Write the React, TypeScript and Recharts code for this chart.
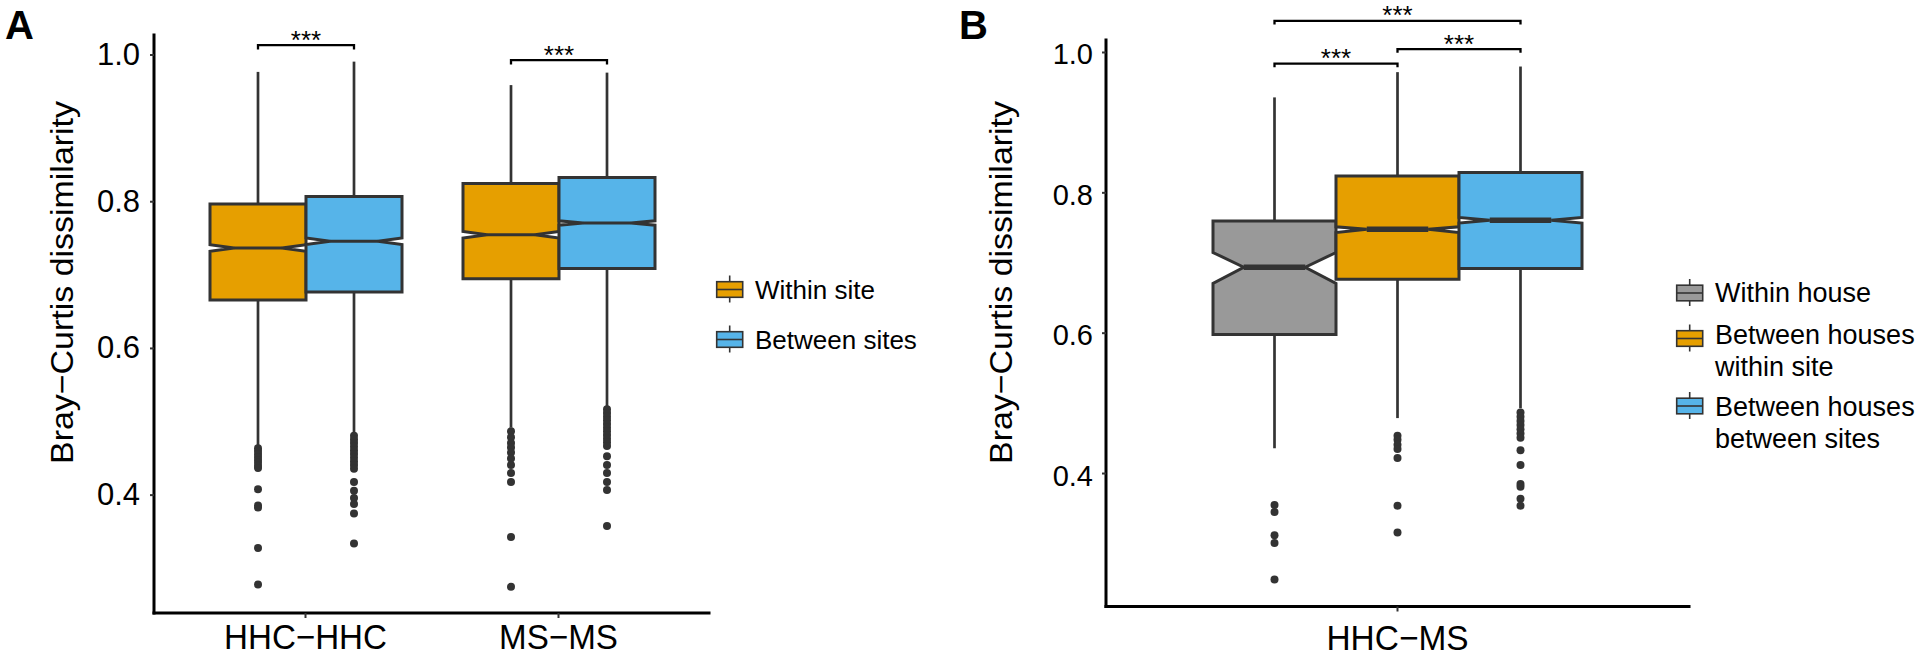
import React from "react";
import { Bar, ComposedChart, Label, Legend, XAxis, YAxis } from "recharts";

const FONT = '"Liberation Sans", Arial, Helvetica, sans-serif';
const INK = "#333333";

// ---- panel A: same-type pairs ----
const pairCategories = ["HHC−HHC", "MS−MS"];
const pairSeries = ["Within site", "Between sites"];
const pairColors = ["#E69F00", "#56B4E9"];
// [lower whisker, Q1, notch low, median, notch high, Q3, upper whisker]
const withinSiteStats = [
  [0.468, 0.666, 0.7325, 0.737, 0.7415, 0.797, 0.977],
  [0.492, 0.695, 0.7505, 0.755, 0.7595, 0.825, 0.959],
];
const betweenSitesStats = [
  [0.484, 0.677, 0.7415, 0.746, 0.7505, 0.807, 0.991],
  [0.521, 0.709, 0.768, 0.771, 0.774, 0.833, 0.976],
];
const withinSiteOutliers = [
  [0.464, 0.46, 0.456, 0.452, 0.448, 0.444, 0.44, 0.437, 0.408, 0.386, 0.383, 0.328, 0.278],
  [0.487, 0.479, 0.471, 0.465, 0.458, 0.45, 0.441, 0.43, 0.418, 0.343, 0.275],
];
const betweenSitesOutliers = [
  [0.481, 0.476, 0.471, 0.466, 0.461, 0.456, 0.451, 0.446, 0.441, 0.436, 0.418, 0.406, 0.396, 0.388, 0.375, 0.334],
  [0.517, 0.512, 0.507, 0.502, 0.497, 0.492, 0.487, 0.482, 0.477, 0.472, 0.467, 0.453, 0.441, 0.43, 0.418, 0.407, 0.358],
];
const pairBracketY = [1.0136, 0.993];

// ---- panel B: HHC vs MS ----
const mixedCategories = ["HHC−MS"];
const mixedSeries = [["Within house"], ["Between houses", "within site"], ["Between houses", "between sites"]];
const mixedColors = ["#999999", "#E69F00", "#56B4E9"];
const withinHouseStats = [[0.436, 0.598, 0.671, 0.694, 0.715, 0.76, 0.936]];
const housesWithinSiteStats = [[0.479, 0.677, 0.7435, 0.748, 0.7515, 0.824, 0.972]];
const housesBetweenSitesStats = [[0.493, 0.692, 0.757, 0.761, 0.765, 0.829, 0.98]];
const withinHouseOutliers = [[0.355, 0.345, 0.312, 0.301, 0.249]];
const housesWithinSiteOutliers = [[0.454, 0.448, 0.441, 0.435, 0.422, 0.354, 0.316]];
const housesBetweenSitesOutliers = [
  [0.487, 0.481, 0.475, 0.469, 0.463, 0.457, 0.451, 0.433, 0.412, 0.385, 0.381, 0.364, 0.354],
];
// [from series, to series, height]
const mixedBrackets = [
  [0, 1, 0.984],
  [1, 2, 1.0047],
  [0, 2, 1.045],
];

const yTicks = [0.4, 0.6, 0.8, 1.0];

const spanOf = (stats: number[], outliers: number[]) => [Math.min(stats[0], ...outliers), stats[6]];

const pairRows = pairCategories.map((cat, i) => ({
  cat,
  within: spanOf(withinSiteStats[i], withinSiteOutliers[i]),
  between: spanOf(betweenSitesStats[i], betweenSitesOutliers[i]),
}));

const mixedRows = mixedCategories.map((cat, i) => ({
  cat,
  house: spanOf(withinHouseStats[i], withinHouseOutliers[i]),
  withinSite: spanOf(housesWithinSiteStats[i], housesWithinSiteOutliers[i]),
  betweenSites: spanOf(housesBetweenSitesStats[i], housesBetweenSitesOutliers[i]),
}));

function boxShape(
  stats: number[][],
  outliers: number[][],
  color: string,
  medianWidth: number,
  brackets?: (i: number) => number[][],
  tip = 0.006
) {
  return (props: any) => {
    const { x, y, width, height, index } = props;
    const s = stats[index];
    const pts = outliers[index];
    const [lo, hi] = spanOf(s, pts);
    const top = Math.min(y, y + height);
    const bottom = Math.max(y, y + height);
    const py = (v: number) => bottom - ((v - lo) / (hi - lo)) * (bottom - top);
    const [wl, q1, nl, med, nh, q3, wh] = s;
    const x0 = x;
    const x1 = x + width;
    const cx = x + width / 2;
    const inset = width * 0.25;
    const d =
      `M${x0},${py(q3)} L${x1},${py(q3)} L${x1},${py(nh)} L${x1 - inset},${py(med)} ` +
      `L${x1},${py(nl)} L${x1},${py(q1)} L${x0},${py(q1)} L${x0},${py(nl)} ` +
      `L${x0 + inset},${py(med)} L${x0},${py(nh)} Z`;
    return (
      <g>
        <line x1={cx} x2={cx} y1={py(q3)} y2={py(wh)} stroke={INK} strokeWidth={2.7} />
        <line x1={cx} x2={cx} y1={py(q1)} y2={py(wl)} stroke={INK} strokeWidth={2.7} />
        <path d={d} fill={color} stroke={INK} strokeWidth={3} />
        <line x1={x0 + inset} x2={x1 - inset} y1={py(med)} y2={py(med)} stroke={INK} strokeWidth={medianWidth} />
        {pts.map((v, k) => (
          <circle key={k} cx={cx} cy={py(v)} r={4} fill={INK} />
        ))}
        {brackets &&
          brackets(index).map(([from, to, h], k) => {
            const bx0 = cx + from * width;
            const bx1 = cx + to * width;
            const by = py(h);
            const bt = py(h - tip);
            return (
              <g key={`b${k}`}>
                <path d={`M${bx0},${bt} L${bx0},${by} L${bx1},${by} L${bx1},${bt}`} fill="none" stroke="#000" strokeWidth={2.3} />
                <text x={(bx0 + bx1) / 2} y={by + 3.5} textAnchor="middle" fontFamily={FONT} fontSize={26} fill="#000">
                  ***
                </text>
              </g>
            );
          })}
      </g>
    );
  };
}

const YTick = ({ x, y, payload, fs, dy }: any) => (
  <text x={x} y={y + dy} textAnchor="end" fontFamily={FONT} fontSize={fs} fill="#000">
    {Number(payload.value).toFixed(1)}
  </text>
);

const XTick = ({ x, y, payload, fs, sx }: any) => (
  <text
    transform={`translate(${x},${y}) scale(${sx},1)`}
    y={fs * 0.72}
    textAnchor="middle"
    fontFamily={FONT}
    fontSize={fs}
    fill="#000"
  >
    {payload.value}
  </text>
);

const axisTitle = (bx: number, letter: string, letterX: number) => () => (
  <g>
    <text
      transform={`translate(${bx},282.5) rotate(-90)`}
      textAnchor="middle"
      fontFamily={FONT}
      fontSize={32}
      textLength={363}
      lengthAdjust="spacingAndGlyphs"
      fill="#000"
    >
      Bray−Curtis dissimilarity
    </text>
    <text x={letterX} y={39} fontFamily={FONT} fontSize={40} fontWeight="bold" fill="#000">
      {letter}
    </text>
  </g>
);

const LegendKey = ({ cx, cy, color }: any) => (
  <g>
    <line x1={cx} x2={cx} y1={cy - 14} y2={cy + 13} stroke={INK} strokeWidth={1.6} />
    <rect x={cx - 13} y={cy - 7.8} width={26} height={15.6} fill={color} stroke={INK} strokeWidth={1.6} />
    <line x1={cx - 13} x2={cx + 13} y1={cy} y2={cy} stroke={INK} strokeWidth={1.6} />
  </g>
);

const pairLegend = () => (
  <svg width={260} height={130} style={{ overflow: "visible" }}>
    {pairSeries.map((name, i) => (
      <g key={name}>
        <LegendKey cx={29.7} cy={29.5 + i * 50} color={pairColors[i]} />
        <text x={55} y={39 + i * 50} fontFamily={FONT} fontSize={26} fill="#000">
          {name}
        </text>
      </g>
    ))}
  </svg>
);

const mixedKeyY = [33, 78.5, 146];
const mixedTextY = [41.7, 84, 155.5];
const mixedLegend = () => (
  <svg width={260} height={200} style={{ overflow: "visible" }}>
    {mixedSeries.map((lines, i) => (
      <g key={i}>
        <LegendKey cx={29.7} cy={mixedKeyY[i]} color={mixedColors[i]} />
        <text x={55} y={mixedTextY[i]} fontFamily={FONT} fontSize={27} fill="#000">
          {lines.map((ln, k) => (
            <tspan key={k} x={55} dy={k === 0 ? 0 : 32}>
              {ln}
            </tspan>
          ))}
        </text>
      </g>
    ))}
  </svg>
);

const axisLine = { stroke: "#000", strokeWidth: 3, strokeLinecap: "square" as const };
const tickLine = { stroke: INK, strokeWidth: 2 };

export default function App() {
  return (
    <div style={{ position: "absolute", left: 0, top: 0, width: 1920, height: 659, background: "#fff" }}>
      <div style={{ position: "absolute", left: 0, top: 0 }}>
        <ComposedChart width={960} height={659} data={pairRows} barGap={0} margin={{ top: 35, right: 251, bottom: 0, left: 54 }}>
          <XAxis
            dataKey="cat"
            type="category"
            height={46}
            interval={0}
            padding={{ left: 25, right: 24 }}
            tickSize={5}
            tickMargin={6}
            axisLine={axisLine}
            tickLine={tickLine}
            tick={(p: any) => <XTick {...p} fs={35} sx={0.947} />}
          />
          <YAxis
            type="number"
            domain={[0.2393, 1.0273]}
            ticks={yTicks}
            width={100}
            tickSize={4}
            tickMargin={10}
            axisLine={axisLine}
            tickLine={tickLine}
            tick={(p: any) => <YTick {...p} fs={31} dy={10} />}
            label={<Label content={axisTitle(73, "A", 5)} />}
          />
          <Bar
            dataKey="within"
            barSize={96}
            isAnimationActive={false}
            shape={boxShape(withinSiteStats, withinSiteOutliers, pairColors[0], 3, (i) => [[0, 1, pairBracketY[i]]])}
          />
          <Bar
            dataKey="between"
            barSize={96}
            isAnimationActive={false}
            shape={boxShape(betweenSitesStats, betweenSitesOutliers, pairColors[1], 3)}
          />
          <Legend
            layout="vertical"
            align="center"
            verticalAlign="middle"
            content={pairLegend}
            wrapperStyle={{ left: 700, top: 260, width: 260, height: 130 }}
          />
        </ComposedChart>
      </div>
      <div style={{ position: "absolute", left: 960, top: 0 }}>
        <ComposedChart width={960} height={659} data={mixedRows} barGap={0} margin={{ top: 40, right: 231, bottom: 0, left: 66 }}>
          <XAxis
            dataKey="cat"
            type="category"
            height={52.5}
            interval={0}
            tickSize={5}
            tickMargin={13}
            axisLine={axisLine}
            tickLine={tickLine}
            tick={(p: any) => <XTick {...p} fs={35} sx={0.955} />}
          />
          <YAxis
            type="number"
            domain={[0.2105, 1.0178]}
            ticks={yTicks}
            width={80}
            tickSize={4}
            tickMargin={9}
            axisLine={axisLine}
            tickLine={tickLine}
            tick={(p: any) => <YTick {...p} fs={29} dy={12} />}
            label={<Label content={axisTitle(52, "B", -1)} />}
          />
          <Bar
            dataKey="house"
            barSize={123}
            isAnimationActive={false}
            shape={boxShape(withinHouseStats, withinHouseOutliers, mixedColors[0], 5.5, () => mixedBrackets, 0.005)}
          />
          <Bar
            dataKey="withinSite"
            barSize={123}
            isAnimationActive={false}
            shape={boxShape(housesWithinSiteStats, housesWithinSiteOutliers, mixedColors[1], 5.5)}
          />
          <Bar
            dataKey="betweenSites"
            barSize={123}
            isAnimationActive={false}
            shape={boxShape(housesBetweenSitesStats, housesBetweenSitesOutliers, mixedColors[2], 5.5)}
          />
          <Legend
            layout="vertical"
            align="center"
            verticalAlign="middle"
            content={mixedLegend}
            wrapperStyle={{ left: 700, top: 260, width: 260, height: 200 }}
          />
        </ComposedChart>
      </div>
    </div>
  );
}
